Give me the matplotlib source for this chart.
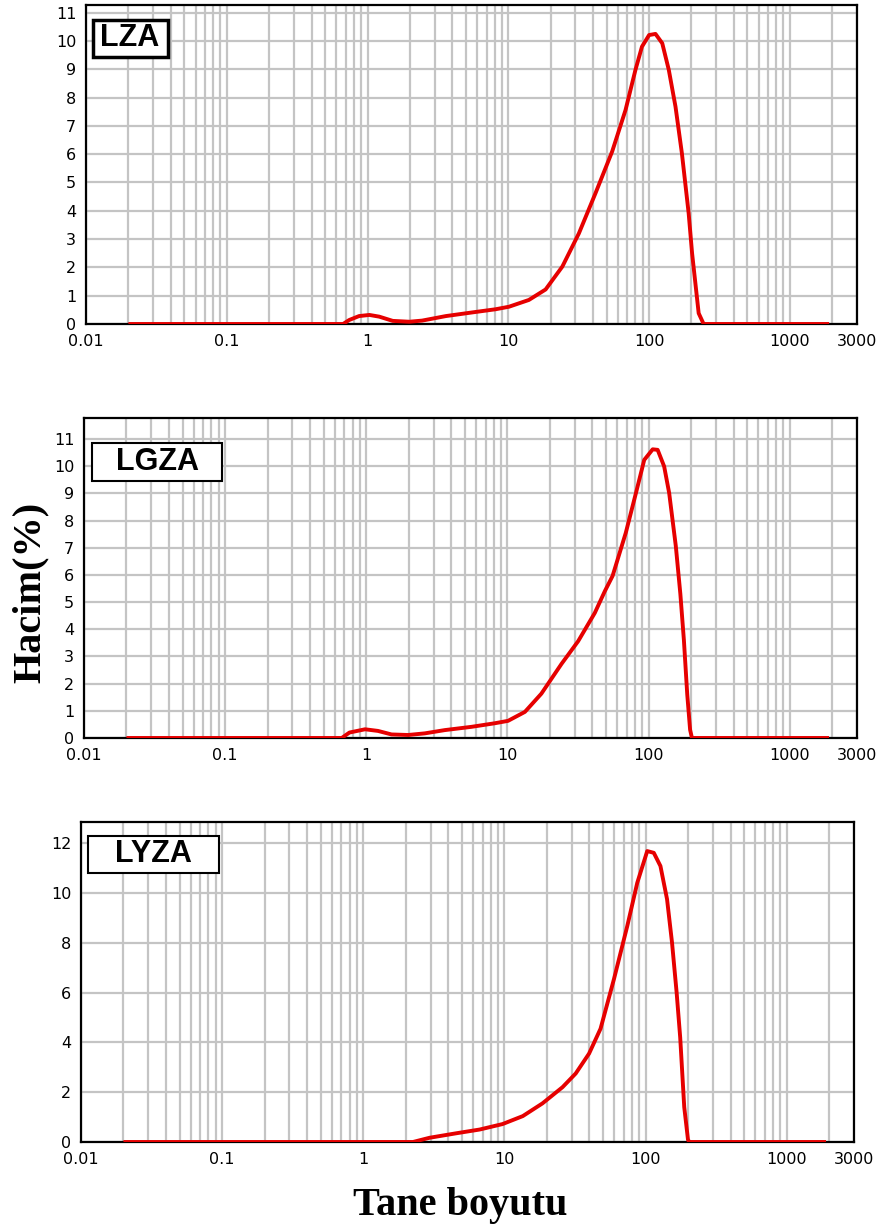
import numpy as np
import matplotlib
matplotlib.use('Agg')
import matplotlib.pyplot as plt
from matplotlib.ticker import LogLocator, NullFormatter, FixedLocator
from matplotlib.patches import Rectangle

# Donnees (taille en um, volume en %)
x_lza = [0.02, 0.67, 0.74, 0.87, 1.03, 1.21, 1.51, 1.98, 2.44, 3.6, 5.56, 8.1, 10.1,
         14, 18.4, 24.2, 31.7, 41.6, 54.7, 68, 80, 89, 100, 111, 124, 138, 154,
         171, 191, 202, 225, 244, 1900]
y_lza = [0, 0, 0.14, 0.28, 0.32, 0.26, 0.11, 0.08, 0.12, 0.28, 0.41, 0.52, 0.61,
         0.85, 1.22, 2.03, 3.2, 4.62, 6.1, 7.56, 8.98, 9.8, 10.21, 10.25, 9.92, 8.98, 7.68,
         6.03, 3.91, 2.5, 0.38, 0, 0]

x_lgza = [0.02, 0.67, 0.76, 0.98, 1.21, 1.51, 1.98, 2.6, 3.6, 5.56, 8.1, 10.1, 13.3,
          17.4, 24.2, 31.7, 41.6, 49, 55.6, 69, 81.4, 93.2, 107, 116, 129, 140, 156,
          168, 178, 188, 197, 203, 1900]
y_lgza = [0, 0, 0.2, 0.32, 0.26, 0.13, 0.11, 0.17, 0.29, 0.41, 0.54, 0.63, 0.96,
          1.63, 2.73, 3.56, 4.6, 5.4, 5.96, 7.55, 9.01, 10.23, 10.62, 10.6, 9.99, 9.01, 7.06,
          5.3, 3.6, 1.6, 0.3, 0, 0]

x_lyza = [0.02, 2.25, 2.95, 4.56, 6.67, 9.7, 13.5, 18.6, 25.8, 32, 39.8, 48, 59.8,
          74.3, 87.4, 102.8, 114.4, 127.5, 142, 154, 166, 176, 188, 200, 205, 1900]
y_lyza = [0, 0, 0.17, 0.35, 0.5, 0.72, 1.04, 1.55, 2.2, 2.75, 3.55, 4.55, 6.55,
          8.68, 10.41, 11.68, 11.61, 11.08, 9.75, 8.01, 6.01, 4.2, 1.4, 0.08, 0, 0]

noms = ['LZA', 'LGZA', 'LYZA']
xticks = [0.01, 0.1, 1, 10, 100, 1000, 3000]
xticklabels = ['0.01', '0.1', '1', '10', '100', '1000', '3000']

fig = plt.figure(figsize=(8.85, 12.31), dpi=100)

# position des axes, limite y, graduations y, boite du nom, centre du texte
panneaux = [
    ([0.0972, 0.7368, 0.8712, 0.2591], 11.27, list(range(0, 12)),
     (0.009, 0.837, 0.097, 0.116), (0.057, 0.897), 2.5),
    ([0.0949, 0.4005, 0.8735, 0.2599], 11.77, list(range(0, 12)),
     (0.0103, 0.803, 0.168, 0.119), (0.0957, 0.8625), 1.5),
    ([0.0915, 0.0723, 0.8735, 0.2600], 12.85, list(range(0, 13, 2)),
     (0.009, 0.841, 0.1695, 0.115), (0.094, 0.899), 1.5),
]
donnees = [(x_lza, y_lza), (x_lgza, y_lgza), (x_lyza, y_lyza)]

for (pos, ymax, yt, boite, centre, lw), (xs, ys), nom in zip(panneaux, donnees, noms):
    ax = fig.add_axes(pos)
    ax.set_xscale('log')
    ax.set_xlim(0.01, 3000)
    ax.set_ylim(0, ymax)
    ax.xaxis.set_major_locator(FixedLocator(xticks))
    ax.set_xticklabels(xticklabels)
    ax.xaxis.set_minor_locator(LogLocator(base=10, subs=np.arange(2, 10), numticks=20))
    ax.xaxis.set_minor_formatter(NullFormatter())
    ax.set_yticks(yt)
    ax.grid(True, which='both', axis='x', color='#c4c4c4', linewidth=1.6, zorder=0)
    ax.grid(True, which='major', axis='y', color='#c4c4c4', linewidth=1.6, zorder=0)
    ax.set_axisbelow(True)
    ax.tick_params(which='both', length=0, labelsize=11.5, pad=7, colors='black')
    for s in ax.spines.values():
        s.set_linewidth(1.6)
        s.set_color('black')
    ax.plot(xs, ys, color='#e60000', linewidth=2.8, zorder=3,
            solid_joinstyle='round', solid_capstyle='butt')
    ax.add_patch(Rectangle((boite[0], boite[1]), boite[2], boite[3], transform=ax.transAxes,
                           facecolor='white', edgecolor='black', linewidth=lw, zorder=4))
    ax.text(centre[0], centre[1], nom, transform=ax.transAxes, ha='center', va='center',
            fontsize=22, fontweight='bold', family='Liberation Sans', zorder=5)

fig.text(0.034, 0.519, 'Hacim(%)', rotation=90, ha='center', va='center',
         fontsize=29, fontweight='bold', family='Liberation Serif')
fig.text(0.52, 0.021, 'Tane boyutu', ha='center', va='center',
         fontsize=29, fontweight='bold', family='Liberation Serif')

plt.savefig('out.png', dpi=100)
